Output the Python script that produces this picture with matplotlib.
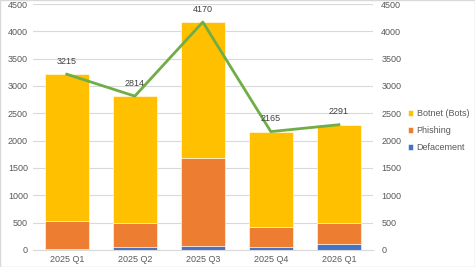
import matplotlib.pyplot as plt
import numpy as np

quarters = ['2025 Q1', '2025 Q2', '2025 Q3', '2025 Q4', '2026 Q1']
defacement = [15, 55, 75, 60, 110]
phishing = [515, 445, 1615, 360, 380]
botnet = [2685, 2314, 2480, 1745, 1801]
totals = [3215, 2814, 4170, 2165, 2291]

txt = '#595959'
plt.rcParams['font.family'] = ['Liberation Sans', 'DejaVu Sans']
plt.rcParams['font.size'] = 6.5

fig = plt.figure(figsize=(4.75, 2.67), dpi=100)
ax = fig.add_axes([0.069, 0.064, 0.716, 0.921])
x = np.arange(len(quarters))
w = 0.64

bottom2 = np.array(defacement)
bottom3 = bottom2 + np.array(phishing)
ax.bar(x, defacement, w, color='#4472C4', edgecolor='white', linewidth=0.4, label='Defacement', zorder=2)
ax.bar(x, phishing, w, bottom=bottom2, color='#ED7D31', edgecolor='white', linewidth=0.4, label='Phishing', zorder=2)
ax.bar(x, botnet, w, bottom=bottom3, color='#FFC000', edgecolor='white', linewidth=0.4, label='Botnet (Bots)', zorder=2)

ax.set_ylim(0, 4500)
ax.set_yticks(range(0, 4501, 500))
ax.set_xlim(-0.5, len(quarters) - 0.5)
ax.set_xticks(x)
ax.set_xticklabels(quarters)
ax.grid(axis='y', color='#D9D9D9', linewidth=0.8, zorder=0)
ax.set_axisbelow(True)
for s in ['top', 'right', 'left']:
    ax.spines[s].set_visible(False)
ax.spines['bottom'].set_color('#D9D9D9')
ax.tick_params(axis='both', length=0, colors=txt, labelsize=6.5)

ax2 = ax.twinx()
ax2.plot(x, totals, color='#70AD47', linewidth=2, zorder=3)
ax2.set_ylim(0, 4500)
ax2.set_yticks(range(0, 4501, 500))
for s in ax2.spines.values():
    s.set_visible(False)
ax2.tick_params(axis='y', length=0, colors=txt, labelsize=6.5, pad=6)
for xi, t in zip(x, totals):
    ax2.annotate(str(t), (xi, t), xytext=(0, 6), textcoords='offset points',
                 ha='center', va='bottom', color='#404040', fontsize=6.5)

handles, labels = ax.get_legend_handles_labels()
fig.legend(handles[::-1], labels[::-1], loc='center left', bbox_to_anchor=(0.855, 0.51),
           frameon=False, fontsize=6.5, handlelength=0.6, handleheight=0.6,
           handletextpad=0.35, labelspacing=0.9, labelcolor=txt, borderaxespad=0,
           borderpad=0.2)

fig.patches.append(plt.Rectangle((0, 0), 1, 1, transform=fig.transFigure,
                                 fill=False, edgecolor='#D9D9D9', linewidth=1))
fig.savefig('out.png', dpi=100)
